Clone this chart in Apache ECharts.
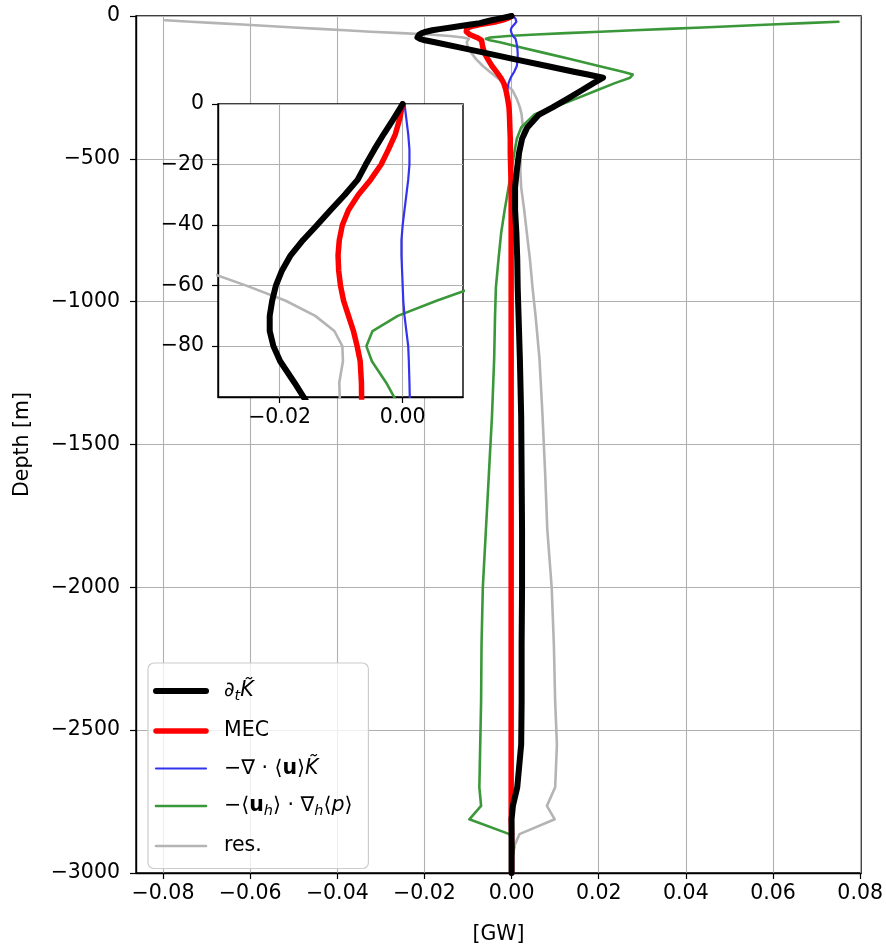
<!DOCTYPE html>
<html>
<head>
<meta charset="utf-8">
<script src="https://cdn.jsdelivr.net/npm/echarts@6/dist/echarts.min.js"></script>
<style>
html,body{margin:0;padding:0;background:#fff;}
#chart{width:886px;height:950px;}
</style>
</head>
<body>
<div id="chart"></div>
<script>
// Depth levels [m]
const depth = [0, -5, -10, -15, -20, -25, -30, -35, -40, -45, -50, -55, -60, -65, -70, -75, -80, -85, -92,
  -110, -130, -150, -175, -195, -205, -216, -235, -260, -290, -320, -345, -390, -430, -480, -540,
  -600, -680, -760, -850, -950, -1050, -1200, -1400, -1600, -1800, -2000, -2200, -2400, -2550,
  -2700, -2765, -2812, -2864, -2910, -2950, -3000];

// d_t K~  [GW]
const dtK = [0, -0.0015, -0.0031, -0.0046, -0.0060, -0.0073, -0.0094, -0.0117, -0.0139, -0.0162, -0.0182, -0.0196, -0.0206, -0.0212, -0.0216, -0.0216, -0.0210, -0.0199, -0.0176,
  -0.0120, -0.0058, 0.0003, 0.0081, 0.0143, 0.0175, 0.0210, 0.0188, 0.0161, 0.0128, 0.0094, 0.0063, 0.0036, 0.0024, 0.0017, 0.0012,
  0.0008, 0.0008, 0.0011, 0.0013, 0.0014, 0.0016, 0.0019, 0.0022, 0.0023, 0.0024, 0.0024, 0.0023, 0.0023, 0.0022,
  0.0013, 0.0003, 0.0000, 0.0000, 0.0000, 0.0000, 0.0000];

// MEC [GW]
const mec = [0, -0.0005, -0.0012, -0.0023, -0.0035, -0.0052, -0.0072, -0.0088, -0.0098, -0.0103, -0.0105, -0.0104, -0.0101, -0.0096, -0.0088, -0.0080, -0.0074, -0.0069, -0.0067,
  -0.0066, -0.0062, -0.0055, -0.0045, -0.0035, -0.0030, -0.0025, -0.0018, -0.0013, -0.0009, -0.0006, -0.0005, -0.0004, -0.0003, -0.0003, -0.0002,
  -0.0001, -0.0001, -0.0001, -0.0001, -0.0001, -0.0001, -0.0001, -0.0001, -0.0001, -0.0001, -0.0001, -0.0001, -0.0001, -0.0001,
  -0.0001, -0.0001, -0.0001, 0.0000, 0.0000, 0.0000, 0.0000];

// -div(<u> K~) [GW]
const divK = [0.0003, 0.0006, 0.0009, 0.0011, 0.0011, 0.0009, 0.0006, 0.0003, 0.0000, -0.0002, -0.0002, -0.0001, 0.0000, 0.0001, 0.0003, 0.0006, 0.0009, 0.0010, 0.0011,
  0.0013, 0.0014, 0.0014, 0.0012, 0.0006, 0.0002, -0.0002, -0.0007, -0.0010, -0.0010, -0.0008, -0.0006, -0.0004, -0.0003, -0.0002, -0.0002,
  -0.0001, -0.0001, -0.0001, -0.0001, -0.0001, -0.0001, -0.0001, -0.0001, -0.0001, -0.0001, -0.0001, -0.0001, -0.0001, -0.0001,
  -0.0001, -0.0001, 0.0000, 0.0000, 0.0000, 0.0000, 0.0000];

// -<u_h> . grad_h <p> [GW]
const presWork = [null, null, null, null, 0.0750, 0.0672, 0.0594, 0.0516, 0.0438, 0.0359, 0.0281, 0.0203, 0.0125, 0.0055, -0.0008, -0.0049, -0.0059, -0.0050, -0.0027,
  0.0022, 0.0077, 0.0132, 0.0200, 0.0255, 0.0278, 0.0272, 0.0237, 0.0196, 0.0147, 0.0096, 0.0052, 0.0022, 0.0012, 0.0006, 0.0000,
  -0.0007, -0.0016, -0.0024, -0.0030, -0.0036, -0.0038, -0.0040, -0.0045, -0.0052, -0.0059, -0.0066, -0.0069, -0.0070, -0.0072,
  -0.0074, -0.0070, -0.0097, -0.0005, 0.0006, 0.0002, 0.0000];

// residual [GW]
const resid = [null, null, null, -0.0795, -0.0736, -0.0677, -0.0618, -0.0559, -0.0500, -0.0441, -0.0382, -0.0323, -0.0254, -0.0190, -0.0142, -0.0111, -0.0098, -0.0097, -0.0103,
  -0.0100, -0.0092, -0.0082, -0.0066, -0.0050, -0.0042, -0.0033, -0.0017, 0.0002, 0.0012, 0.0019, 0.0023, 0.0026, 0.0024, 0.0021, 0.0020,
  0.0022, 0.0029, 0.0035, 0.0042, 0.0048, 0.0055, 0.0064, 0.0071, 0.0077, 0.0082, 0.0092, 0.0097, 0.0100, 0.0104,
  0.0100, 0.0081, 0.0099, 0.0018, 0.0005, 0.0001, 0.0000];

const mainXTicks = [-0.08, -0.06, -0.04, -0.02, 0.00, 0.02, 0.04, 0.06, 0.08];
const mainYTicks = [-3000, -2500, -2000, -1500, -1000, -500, 0];
const insetXTicks = [-0.02, 0.00];
const insetYTicks = [-80, -60, -40, -20, 0];

const seriesDefs = [
  {name: 'dtK', values: dtK, color: '#000000', width: 6, z: 6},
  {name: 'MEC', values: mec, color: '#ff0000', width: 5.5, z: 5},
  {name: 'divK', values: divK, color: '#3333ee', width: 2.2, z: 4},
  {name: 'pres', values: presWork, color: '#3a983a', width: 2.6, z: 3},
  {name: 'res', values: resid, color: '#b4b4b4', width: 2.6, z: 2}
];

const legendLabels = {
  dtK: '{i|∂}{s|t}{i|K̃}',
  MEC: '{n|MEC}',
  divK: '{n|−∇ · ⟨}{b|u}{n|⟩}{i|K̃}',
  pres: '{n|−⟨}{b|u}{s|h}{n|⟩ · ∇}{s|h}{n|⟨}{i|p}{n|⟩}',
  res: '{n|res.}'
};

function pairs(vals) {
  const out = [];
  for (let i = 0; i < depth.length; i++) {
    if (vals[i] !== null && vals[i] !== undefined) out.push([vals[i], depth[i]]);
  }
  return out;
}

function fmtNum(v, dec) {
  const s = Math.abs(v).toFixed(dec);
  return (v < -1e-12 ? '\u2212' : '') + s;
}

const FONT = 'DejaVu Sans';
const FS = 20.5;
const gridColor = '#b0b0b0';

const series = [];
seriesDefs.forEach(s => {
  series.push({
    type: 'line', name: s.name, xAxisIndex: 0, yAxisIndex: 0,
    data: pairs(s.values), showSymbol: false, symbol: 'none',
    lineStyle: {color: s.color, width: s.width, join: 'round', cap: 'round'},
    itemStyle: {color: s.color},
    z: 2 + s.z * 0.1, clip: true, animation: false
  });
});
seriesDefs.forEach(s => {
  series.push({
    type: 'line', name: s.name + '_inset', xAxisIndex: 1, yAxisIndex: 1,
    data: pairs(s.values), showSymbol: false, symbol: 'none',
    lineStyle: {color: s.color, width: s.width, join: 'round', cap: 'round'},
    itemStyle: {color: s.color},
    z: 20 + s.z * 0.1, clip: true, animation: false
  });
});

const richBase = {fontFamily: FONT, fontSize: FS, color: '#000', lineHeight: 26, verticalAlign: 'middle'};

const option = {
  animation: false,
  backgroundColor: '#ffffff',
  textStyle: {fontFamily: FONT},
  grid: [
    {left: 136, top: 16, width: 727, height: 863, show: true, borderColor: '#000', borderWidth: 1.4, backgroundColor: 'transparent', containLabel: false},
    {left: 218, top: 104, width: 245, height: 293, show: true, borderColor: '#000', borderWidth: 1.4, backgroundColor: '#ffffff', containLabel: false, z: 15}
  ],
  xAxis: [
    {
      type: 'value', gridIndex: 0, min: -0.0862, max: 0.0802, interval: 0.02,
      name: '[GW]', nameLocation: 'middle', nameGap: 51,
      nameTextStyle: {fontFamily: FONT, fontSize: FS, color: '#000'},
      axisLine: {show: true, onZero: false, lineStyle: {color: '#000', width: 1.4}},
      axisTick: {show: true, length: 6, lineStyle: {color: '#000', width: 1.2}, customValues: mainXTicks},
      axisLabel: {show: true, fontFamily: FONT, fontSize: FS, color: '#000', margin: 10, customValues: mainXTicks,
        formatter: v => fmtNum(v, 2)},
      splitLine: {show: true, lineStyle: {color: gridColor, width: 1.1}}
    },
    {
      type: 'value', gridIndex: 1, min: -0.030, max: 0.0098, interval: 0.01, z: 16,
      axisLine: {show: true, onZero: false, lineStyle: {color: '#000', width: 1.4}},
      axisTick: {show: true, length: 6, lineStyle: {color: '#000', width: 1.2}, customValues: insetXTicks},
      axisLabel: {show: true, fontFamily: FONT, fontSize: FS, color: '#000', margin: 10, customValues: insetXTicks,
        formatter: v => fmtNum(v, 2)},
      splitLine: {show: true, lineStyle: {color: gridColor, width: 1.1}}
    }
  ],
  yAxis: [
    {
      type: 'value', gridIndex: 0, min: -3000, max: 0, interval: 500,
      name: 'Depth [m]', nameLocation: 'middle', nameGap: 103, nameRotate: 90,
      nameTextStyle: {fontFamily: FONT, fontSize: FS, color: '#000'},
      axisLine: {show: true, onZero: false, lineStyle: {color: '#000', width: 1.4}},
      axisTick: {show: true, length: 6, lineStyle: {color: '#000', width: 1.2}},
      axisLabel: {show: true, fontFamily: FONT, fontSize: FS, color: '#000', margin: 16,
        formatter: v => fmtNum(v, 0)},
      splitLine: {show: true, lineStyle: {color: gridColor, width: 1.1}}
    },
    {
      type: 'value', gridIndex: 1, min: -96.8, max: 0, interval: 20, z: 16,
      axisLine: {show: true, onZero: false, lineStyle: {color: '#000', width: 1.4}},
      axisTick: {show: true, length: 6, lineStyle: {color: '#000', width: 1.2}, customValues: insetYTicks},
      axisLabel: {show: true, fontFamily: FONT, fontSize: FS, color: '#000', margin: 14, customValues: insetYTicks,
        formatter: v => fmtNum(v, 0)},
      splitLine: {show: true, lineStyle: {color: gridColor, width: 1.1}}
    }
  ],
  legend: {
    show: true,
    data: seriesDefs.map(s => ({name: s.name, lineStyle: {width: s.width, color: s.color}, itemStyle: {opacity: 0, color: s.color}})),
    orient: 'vertical',
    left: 148, top: 663,
    itemWidth: 50, itemHeight: 20, itemGap: 16.5,
    padding: [18, 16, 12, 5],
    backgroundColor: 'rgba(255,255,255,0.8)',
    borderColor: '#cccccc', borderWidth: 1.2, borderRadius: 6,
    selectedMode: false,
    z: 30,
    itemStyle: {opacity: 0},
    formatter: name => legendLabels[name],
    textStyle: {
      fontFamily: FONT, fontSize: FS, color: '#000', padding: [0, 0, 0, 13],
      rich: {
        n: Object.assign({}, richBase),
        b: Object.assign({}, richBase, {fontWeight: 'bold'}),
        i: Object.assign({}, richBase, {fontStyle: 'italic'}),
        s: {fontFamily: FONT, fontSize: 14.5, fontStyle: 'italic', color: '#000', lineHeight: 14, verticalAlign: 'bottom'}
      }
    }
  },
  series: series
};

const chart = echarts.init(document.getElementById('chart'), null, {renderer: 'canvas'});
chart.setOption(option);
</script>
</body>
</html>
